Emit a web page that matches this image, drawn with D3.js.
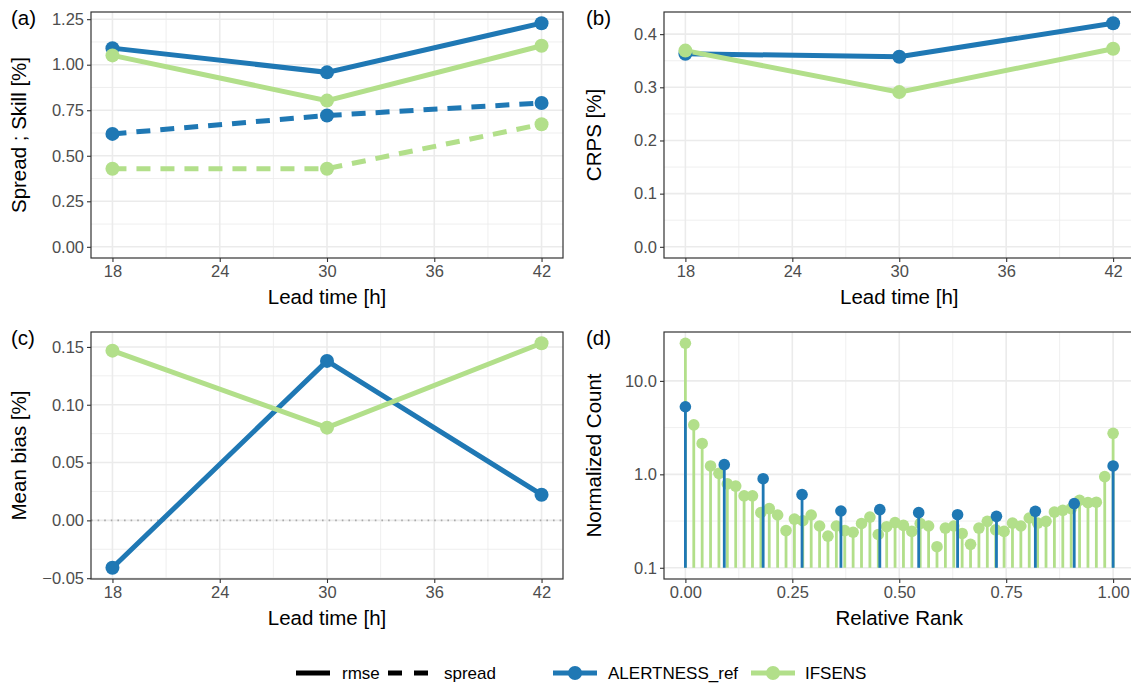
<!DOCTYPE html>
<html>
<head>
<meta charset="utf-8">
<script src="https://cdn.jsdelivr.net/npm/d3@7"></script>
<style>
  body { margin: 0; background: #fff; }
  svg { display: block; font-family: "Liberation Sans", Arial, sans-serif; }
</style>
</head>
<body>
<svg id="chart" width="1131" height="686"></svg>
<script>
// ---- data ----
const leadTimes   = [18, 30, 42];
const rmseAlert   = [1.091, 0.958, 1.228];
const rmseIfs     = [1.051, 0.803, 1.104];
const spreadAlert = [0.620, 0.721, 0.790];
const spreadIfs   = [0.429, 0.429, 0.673];
const crpsAlert   = [0.363, 0.3575, 0.4206];
const crpsIfs     = [0.369, 0.291, 0.3725];
const biasAlert   = [-0.041, 0.1379, 0.0222];
const biasIfs     = [0.1468, 0.0802, 0.1532];

// rank histogram: normalized counts per relative rank
const rankAlert = [5.29, 1.27, 0.898, 0.608, 0.405, 0.419, 0.389, 0.37, 0.355, 0.402, 0.486, 1.23];
const rankIfs = [25.3, 3.38, 2.14, 1.23, 1.025, 0.79, 0.748, 0.589, 0.589, 0.389,
                 0.43, 0.367, 0.25, 0.332, 0.319, 0.367, 0.28, 0.218, 0.28, 0.25,
                 0.24, 0.298, 0.349, 0.227, 0.275, 0.304, 0.284, 0.245, 0.298, 0.28,
                 0.168, 0.266, 0.28, 0.233, 0.178, 0.266, 0.314, 0.255, 0.245, 0.301,
                 0.28, 0.341, 0.301, 0.314, 0.395, 0.412, 0.43, 0.528, 0.499, 0.503,
                 0.944, 2.75];
const stemBase = 0.1;

const leadTicks   = [18, 24, 30, 36, 42];
const leadMinor   = [21, 27, 33, 39];
const skillTicks  = [0, 0.25, 0.5, 0.75, 1, 1.25];
const crpsTicks   = [0, 0.1, 0.2, 0.3, 0.4];
const biasTicks   = [-0.05, 0, 0.05, 0.1, 0.15];
const rankXTicks  = [0, 0.25, 0.5, 0.75, 1];
const countTicks  = [0.1, 1, 10];

const seriesNames = ["ALERTNESS_ref", "IFSENS"];
const colors = { "ALERTNESS_ref": "#1F78B4", "IFSENS": "#B2DF8A" };
const metricNames = ["rmse", "spread"];

// ---- layout ----
const svg = d3.select("#chart");
const panels = {
  a: { l: 91,  r: 563,    t: 12,  b: 258 },
  b: { l: 664, r: 1134.5, t: 12,  b: 258 },
  c: { l: 91,  r: 563,    t: 332, b: 579 },
  d: { l: 664, r: 1134.5, t: 332, b: 579 }
};
const GRID = "#EBEBEB", BORDER = "#333333", TICKTXT = "#4D4D4D";
const TICK_FS = 16.5, TITLE_FS = 20.5, LEGEND_FS = 17;

function expand(lo, hi, m = 0.05) { const d = hi - lo; return [lo - m * d, hi + m * d]; }

function drawPanel(p, x, y, xt, xMinor, yt, yMinor, xfmt, yfmt, xTitle, yTitle, tag, yTitleX) {
  const g = svg.append("g");
  // grid
  xMinor.forEach(v => g.append("line").attr("x1", x(v)).attr("x2", x(v)).attr("y1", p.t).attr("y2", p.b)
    .attr("stroke", GRID).attr("stroke-width", 0.8));
  yMinor.forEach(v => g.append("line").attr("y1", y(v)).attr("y2", y(v)).attr("x1", p.l).attr("x2", p.r)
    .attr("stroke", GRID).attr("stroke-width", 0.8));
  xt.forEach(v => g.append("line").attr("x1", x(v)).attr("x2", x(v)).attr("y1", p.t).attr("y2", p.b)
    .attr("stroke", GRID).attr("stroke-width", 1.6));
  yt.forEach(v => g.append("line").attr("y1", y(v)).attr("y2", y(v)).attr("x1", p.l).attr("x2", p.r)
    .attr("stroke", GRID).attr("stroke-width", 1.6));

  // axes
  const ax = g.append("g").attr("transform", `translate(0,${p.b})`)
    .call(d3.axisBottom(x).tickValues(xt).tickFormat(xfmt).tickSize(4).tickPadding(3));
  const ay = g.append("g").attr("transform", `translate(${p.l},0)`)
    .call(d3.axisLeft(y).tickValues(yt).tickFormat(yfmt).tickSize(4).tickPadding(3));
  [ax, ay].forEach(a => {
    a.select(".domain").remove();
    a.selectAll(".tick line").attr("stroke", BORDER).attr("stroke-width", 1.1);
    a.selectAll(".tick text").attr("fill", TICKTXT).attr("font-size", TICK_FS).attr("font-family", null);
  });

  // titles
  g.append("text").attr("x", (p.l + p.r) / 2).attr("y", p.b + 46).attr("text-anchor", "middle")
    .attr("font-size", TITLE_FS).attr("fill", "#000").text(xTitle);
  g.append("text").attr("transform", `translate(${yTitleX},${(p.t + p.b) / 2}) rotate(-90)`)
    .attr("text-anchor", "middle").attr("font-size", TITLE_FS).attr("fill", "#000").text(yTitle);
  g.append("text").attr("x", yTitleX - 15).attr("y", p.t + 13).attr("font-size", TITLE_FS)
    .attr("fill", "#000").text(tag);

  const plot = g.append("g");
  // border drawn after marks
  return { g, plot, finish: () => g.append("rect").attr("x", p.l).attr("y", p.t)
      .attr("width", p.r - p.l).attr("height", p.b - p.t)
      .attr("fill", "none").attr("stroke", BORDER).attr("stroke-width", 1.2) };
}

const fmt2 = d3.format(".2f"), fmt1 = d3.format(".1f"), fmt0 = d3.format("d");

function lineSeries(plot, x, y, vals, color, dashed) {
  const line = d3.line().x((d, i) => x(leadTimes[i])).y(d => y(d));
  plot.append("path").datum(vals).attr("d", line).attr("fill", "none")
    .attr("stroke", color).attr("stroke-width", 5)
    .attr("stroke-dasharray", dashed ? "14,10" : null);
}
function pointSeries(plot, x, y, vals, color) {
  plot.selectAll(null).data(vals).enter().append("circle")
    .attr("cx", (d, i) => x(leadTimes[i])).attr("cy", d => y(d)).attr("r", 7).attr("fill", color);
}

const xLeadDom = expand(d3.min(leadTimes), d3.max(leadTimes));

// ---- (a) spread / skill ----
{
  const p = panels.a;
  const x = d3.scaleLinear().domain(xLeadDom).range([p.l, p.r]);
  const all = [0, ...rmseAlert, ...rmseIfs, ...spreadAlert, ...spreadIfs];
  const y = d3.scaleLinear().domain(expand(d3.min(all), d3.max(all))).range([p.b, p.t]);
  const minor = skillTicks.slice(0, -1).map(v => v + 0.125);
  const P = drawPanel(p, x, y, leadTicks, leadMinor, skillTicks, minor, fmt0, fmt2,
    "Lead time [h]", "Spread ; Skill [%]", "(a)", 26);
  lineSeries(P.plot, x, y, rmseAlert, colors.ALERTNESS_ref, false);
  lineSeries(P.plot, x, y, rmseIfs, colors.IFSENS, false);
  lineSeries(P.plot, x, y, spreadAlert, colors.ALERTNESS_ref, true);
  lineSeries(P.plot, x, y, spreadIfs, colors.IFSENS, true);
  pointSeries(P.plot, x, y, rmseAlert, colors.ALERTNESS_ref);
  pointSeries(P.plot, x, y, rmseIfs, colors.IFSENS);
  pointSeries(P.plot, x, y, spreadAlert, colors.ALERTNESS_ref);
  pointSeries(P.plot, x, y, spreadIfs, colors.IFSENS);
  P.finish();
}

// ---- (b) CRPS ----
{
  const p = panels.b;
  const x = d3.scaleLinear().domain(xLeadDom).range([p.l, p.r]);
  const all = [0, ...crpsAlert, ...crpsIfs];
  const y = d3.scaleLinear().domain(expand(d3.min(all), d3.max(all))).range([p.b, p.t]);
  const minor = crpsTicks.slice(0, -1).map(v => v + 0.05);
  const P = drawPanel(p, x, y, leadTicks, leadMinor, crpsTicks, minor, fmt0, fmt1,
    "Lead time [h]", "CRPS [%]", "(b)", 601);
  lineSeries(P.plot, x, y, crpsAlert, colors.ALERTNESS_ref, false);
  lineSeries(P.plot, x, y, crpsIfs, colors.IFSENS, false);
  pointSeries(P.plot, x, y, crpsAlert, colors.ALERTNESS_ref);
  pointSeries(P.plot, x, y, crpsIfs, colors.IFSENS);
  P.finish();
}

// ---- (c) mean bias ----
{
  const p = panels.c;
  const x = d3.scaleLinear().domain(xLeadDom).range([p.l, p.r]);
  const all = [...biasAlert, ...biasIfs];
  const y = d3.scaleLinear().domain(expand(d3.min(all), d3.max(all))).range([p.b, p.t]);
  const minor = biasTicks.slice(0, -1).map(v => v + 0.025);
  const P = drawPanel(p, x, y, leadTicks, leadMinor, biasTicks, minor, fmt0, fmt2,
    "Lead time [h]", "Mean bias [%]", "(c)", 26);
  P.plot.append("line").attr("x1", p.l).attr("x2", p.r).attr("y1", y(0)).attr("y2", y(0))
    .attr("stroke", "#AAAAAA").attr("stroke-width", 1.6).attr("stroke-dasharray", "1.6,5");
  lineSeries(P.plot, x, y, biasAlert, colors.ALERTNESS_ref, false);
  lineSeries(P.plot, x, y, biasIfs, colors.IFSENS, false);
  pointSeries(P.plot, x, y, biasAlert, colors.ALERTNESS_ref);
  pointSeries(P.plot, x, y, biasIfs, colors.IFSENS);
  P.finish();
}

// ---- (d) rank histogram ----
{
  const p = panels.d;
  const x = d3.scaleLinear().domain(expand(0, 1)).range([p.l, p.r]);
  const all = [stemBase, ...rankAlert, ...rankIfs];
  const logDom = expand(Math.log10(d3.min(all)), Math.log10(d3.max(all)));
  const y = d3.scaleLog().domain(logDom.map(v => Math.pow(10, v))).range([p.b, p.t]);
  const xMinor = [0.125, 0.375, 0.625, 0.875];
  const yMinor = [Math.sqrt(10) * 0.1, Math.sqrt(10)];
  const P = drawPanel(p, x, y, rankXTicks, xMinor, countTicks, yMinor, fmt2, fmt1,
    "Relative Rank", "Normalized Count", "(d)", 601);
  const series = [["IFSENS", rankIfs], ["ALERTNESS_ref", rankAlert]];
  series.forEach(([name, vals]) => {
    const n = vals.length - 1;
    const grp = P.plot.append("g");
    grp.selectAll("line").data(vals).enter().append("line")
      .attr("x1", (d, i) => x(i / n)).attr("x2", (d, i) => x(i / n))
      .attr("y1", y(stemBase)).attr("y2", d => y(d))
      .attr("stroke", colors[name]).attr("stroke-width", 2.8);
    grp.selectAll("circle").data(vals).enter().append("circle")
      .attr("cx", (d, i) => x(i / n)).attr("cy", d => y(d)).attr("r", 5.8)
      .attr("fill", colors[name]);
  });
  P.finish();
}

// ---- legend ----
{
  const ly = 673;
  const lg = svg.append("g");
  const keys = [
    { x: 296, w: 34, color: "#000", dash: null, dot: false, label: metricNames[0], tx: 342 },
    { x: 388, w: 40, color: "#000", dash: "14,12", dot: false, label: metricNames[1], tx: 444 },
    { x: 553, w: 44, color: colors.ALERTNESS_ref, dash: null, dot: true, label: seriesNames[0], tx: 608 },
    { x: 751, w: 44, color: colors.IFSENS, dash: null, dot: true, label: seriesNames[1], tx: 805 }
  ];
  keys.forEach(k => {
    lg.append("line").attr("x1", k.x).attr("x2", k.x + k.w).attr("y1", ly).attr("y2", ly)
      .attr("stroke", k.color).attr("stroke-width", 5).attr("stroke-dasharray", k.dash);
    if (k.dot) lg.append("circle").attr("cx", k.x + k.w / 2).attr("cy", ly).attr("r", 7).attr("fill", k.color);
    lg.append("text").attr("x", k.tx).attr("y", ly + 6).attr("font-size", LEGEND_FS).attr("fill", "#000").text(k.label);
  });
}
</script>
</body>
</html>
